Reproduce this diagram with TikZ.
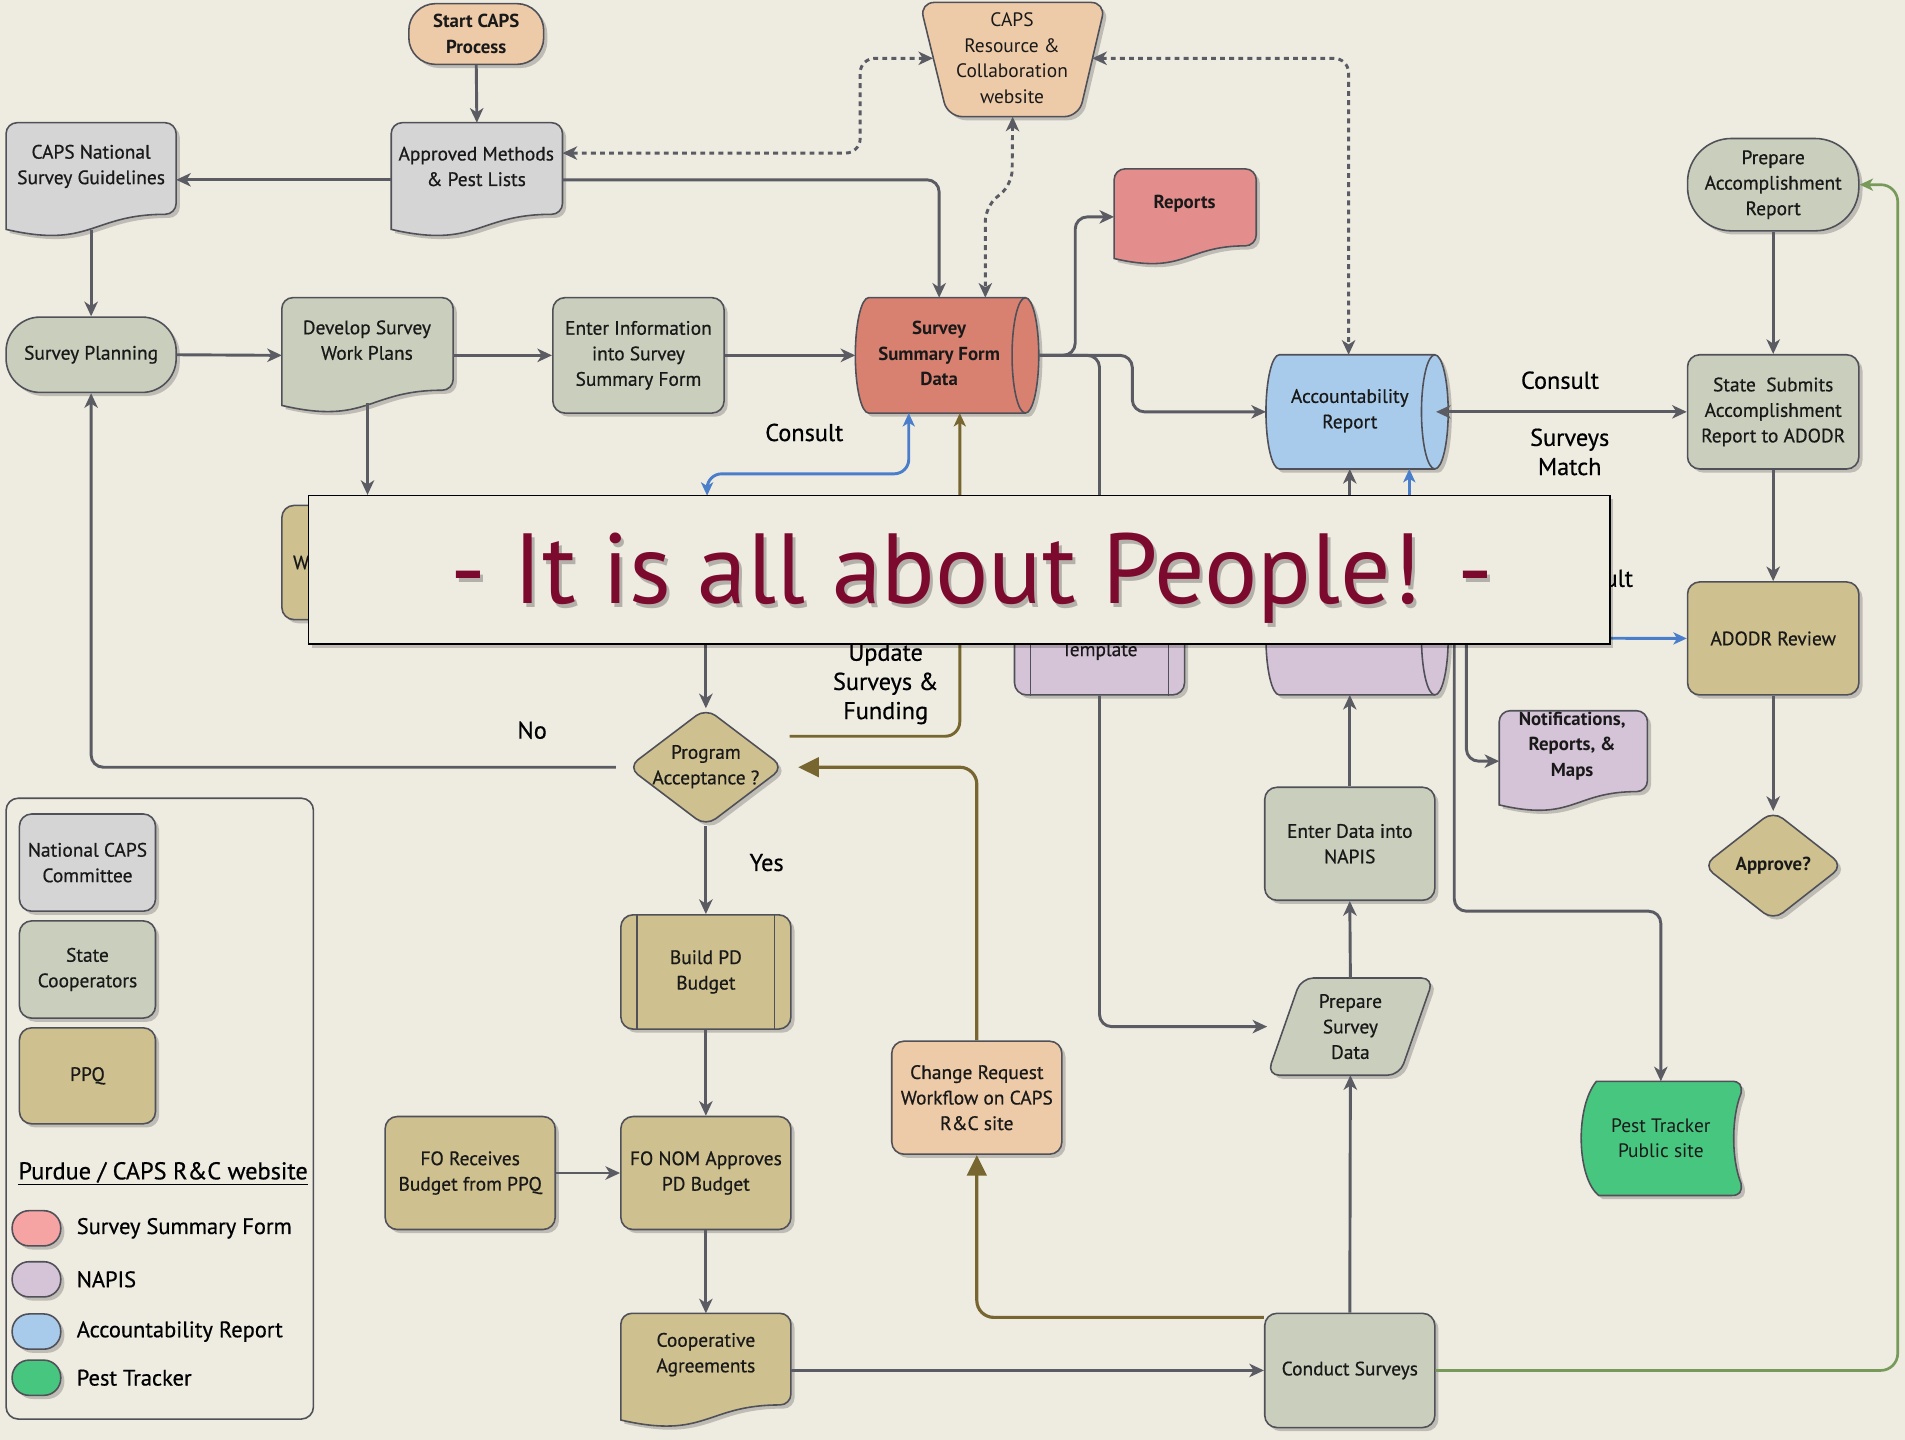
\documentclass[tikz,border=0pt]{standalone}
\usepackage{fontspec}
\setmainfont{PT Sans}
\newfontfamily\medfont{PT Sans}[FakeBold=0.6]
\usetikzlibrary{arrows.meta,calc,shadows}

\definecolor{bgc}{HTML}{EEECE1}
\definecolor{grayf}{HTML}{D5D5D5}
\definecolor{sagef}{HTML}{C9CFBC}
\definecolor{tanf}{HTML}{CEC18F}
\definecolor{peachf}{HTML}{EECBA8}
\definecolor{redf}{HTML}{D98171}
\definecolor{pinkf}{HTML}{E38E8C}
\definecolor{bluef}{HTML}{A9CBEB}
\definecolor{purplef}{HTML}{D5C3D7}
\definecolor{greenf}{HTML}{47C67F}
\definecolor{linec}{HTML}{5B5B63}
\definecolor{bordc}{HTML}{505058}
\definecolor{olivec}{HTML}{776630}
\definecolor{bluel}{HTML}{4A7DCA}
\definecolor{greenl}{HTML}{779A5B}
\definecolor{maroonc}{HTML}{7B0A2E}
\definecolor{legpink}{HTML}{F5A3A3}

\newcommand\nf{\medfont\fontsize{16}{21}\selectfont}
\newcommand\bnf{\normalfont\bfseries\fontsize{15.5}{21}\selectfont}
\newcommand\lf{\medfont\fontsize{20}{24}\selectfont}
\newcommand\legf{\medfont\fontsize{18.5}{24}\selectfont}
\newcommand\bannerfont{\fontsize{82}{90}\selectfont}

\tikzset{
 shad/.style={drop shadow={shadow xshift=3pt,shadow yshift=-3pt,opacity=0.2,fill=black}},
 sline/.style={draw=bordc,line width=1.3pt},
 sz/.style 2 args={minimum width=#1pt,minimum height=#2pt},
 nb/.style={sline,shad,rounded corners=10pt,align=center,font=\nf,inner sep=2pt,text=black!90},
 bare/.style={inner sep=0pt,outer sep=0pt},
 txt/.style={align=center,font=\nf,inner sep=0pt,text=black!90},
 lbl/.style={align=center,font=\lf,inner sep=0pt,text=black},
 legl/.style={align=center,font=\legf,inner sep=0pt,text=black},
 garr/.style={draw=linec,line width=2.4pt,-{Stealth[length=12pt,width=11pt,inset=3.5pt]},rounded corners=10pt},
 glin/.style={draw=linec,line width=2.4pt,rounded corners=10pt},
 garr2/.style={draw=linec,line width=2.4pt,{Stealth[length=12pt,width=11pt,inset=3.5pt]}-{Stealth[length=12pt,width=11pt,inset=3.5pt]}},
 darr/.style={draw=linec,line width=2.4pt,dash pattern=on 4pt off 3.5pt,{Stealth[length=12pt,width=11pt,inset=3.5pt]}-{Stealth[length=12pt,width=11pt,inset=3.5pt]},rounded corners=12pt},
 barr/.style={draw=bluel,line width=2.4pt,-{Stealth[length=11pt,width=10pt,inset=3pt]}},
 barr2/.style={draw=bluel,line width=2.4pt,{Stealth[length=11pt,width=10pt,inset=3pt]}-{Stealth[length=11pt,width=10pt,inset=3pt]},rounded corners=12pt},
 oarr/.style={draw=olivec,line width=2.4pt,-{Stealth[length=11pt,width=10pt,inset=3pt]},rounded corners=12pt},
 obig/.style={draw=olivec,line width=2.6pt,-{Triangle[length=17pt,width=16pt]},rounded corners=14pt},
 grarr/.style={draw=greenl,line width=2.2pt,-{Stealth[length=11pt,width=10pt,inset=3pt]},rounded corners=14pt},
}

% document shape with wavy bottom
\newcommand\docwave[2]{%
 \draw[sline,shad,fill=#2] let \p1=(#1.north west), \p2=(#1.south east), \n1={\x2-\x1}, \n2={\y1-\y2} in
 (\x1,\y2+0.066*\n2) [rounded corners=9pt] -- (\x1,\y1) -- (\x2,\y1) -- (\x2,\y2+0.198*\n2) [sharp corners]
 .. controls (\x1+0.5*\n1,\y2+0.198*\n2) and (\x1+0.5*\n1,\y2-0.107*\n2) .. (\x1,\y2+0.066*\n2) -- cycle;}

% horizontal cylinder
\newcommand\cylshape[2]{%
 \draw[sline,shad,fill=#2] let \p1=(#1.north west), \p2=(#1.south east), \n1={0.5*(\y1-\y2)} in
 (\x1+11pt,\y1) -- (\x2-11pt,\y1) arc[start angle=90,end angle=-90,x radius=11pt,y radius=\n1]
 -- (\x1+11pt,\y2) arc[start angle=270,end angle=90,x radius=11pt,y radius=\n1] -- cycle;
 \draw[sline] let \p1=(#1.north east), \p2=(#1.south east), \n1={0.5*(\y1-\y2)} in
 (\x1-11pt,\y1) arc[start angle=90,end angle=270,x radius=11pt,y radius=\n1];}

% predefined-process bars
\newcommand\bars[1]{%
 \draw[sline] ([xshift=14pt]#1.north west) -- ([xshift=14pt]#1.south west);
 \draw[sline] ([xshift=-14pt]#1.north east) -- ([xshift=-14pt]#1.south east);}

% diamond
\newcommand\diam[2]{%
 \draw[sline,shad,fill=#2,rounded corners=10pt] (#1.north) -- (#1.east) -- (#1.south) -- (#1.west) -- cycle;}

\begin{document}
\begin{tikzpicture}[x=1pt,y=-1pt]
\fill[bgc] (0,0) rectangle (1568,1185);
\useasboundingbox (0,0) rectangle (1568,1185);

% ---------------- nodes ----------------
\node[nb,fill=peachf,sz={111}{50},rounded corners=22pt,font=\bnf] (start) at (392,28) {Start CAPS\\Process};

\node[bare,sz={153}{94}] (web) at (833.5,49) {};
\draw[sline,shad,fill=peachf,rounded corners=12pt] (web.north west) -- (web.north east) -- ($(web.south east)+(-22,0)$) -- ($(web.south west)+(23,0)$) -- cycle;
\node[txt,font=\fontsize{16}{21}\selectfont] (webt) at (833,48) {CAPS\\Resource \&\\Collaboration\\website};
\coordinate (webl) at (768,48);
\coordinate (webr) at (899,48);

\node[bare,sz={140}{94}] (cng) at (75,148) {};
\docwave{cng}{grayf}
\node[txt] (cngt) at (75,137) {CAPS National\\Survey Guidelines};

\node[bare,sz={141}{94}] (appr) at (392.5,148) {};
\docwave{appr}{grayf}
\node[txt] (apprt) at (392,137) {Approved Methods\\\& Pest Lists};

\node[bare,sz={117}{79}] (rep) at (975.5,178.5) {};
\docwave{rep}{pinkf}
\node[txt,font=\bnf] (rept) at (975,168) {Reports};

\node[nb,fill=sagef,sz={141}{76},rounded corners=36pt] (par) at (1459.5,152) {Prepare\\Accomplishment\\Report};

\node[nb,fill=sagef,sz={140}{62},rounded corners=28pt] (sp) at (75,292) {Survey Planning};

\node[bare,sz={141}{95}] (dswp) at (302.5,292.5) {};
\docwave{dswp}{sagef}
\node[txt] (dswpt) at (302,280) {Develop Survey\\Work Plans};

\node[nb,fill=sagef,sz={141}{95}] (eis) at (525.5,292.5) {Enter Information\\into Survey\\Summary Form};

\node[bare,sz={151}{95}] (ssfd) at (779.5,292.5) {};
\cylshape{ssfd}{redf}
\node[txt,font=\bnf] (ssfdt) at (773,291) {Survey\\Summary Form\\Data};

\node[bare,sz={150}{94}] (acc) at (1117,339) {};
\cylshape{acc}{bluef}
\node[txt] (acct) at (1111,338) {Accountability\\Report};

\node[nb,fill=sagef,sz={141}{94}] (sub) at (1459.5,339) {State\ \ Submits\\Accomplishment\\Report to ADODR};

\node[nb,fill=tanf,sz={141}{94}] (hid) at (302.5,463) {};
\node[txt,anchor=west] (hidw) at (241,463) {W};

\node[nb,fill=purplef,sz={140}{94}] (tmpl) at (905,525) {};
\bars{tmpl}
\node[txt] (tmplt) at (905,536) {Template};

\node[bare,sz={150}{94}] (napis) at (1117,525) {};
\cylshape{napis}{purplef}

\node[nb,fill=tanf,sz={141}{93}] (adodr) at (1459.5,525.5) {ADODR Review};

\node[bare,sz={122}{83}] (notif) at (1295,626.5) {};
\docwave{notif}{purplef}
\node[txt,font=\bnf] (notift) at (1294,614) {Notifications,\\Reports, \&\\Maps};

\node[bare,sz={115}{90}] (approve) at (1459.5,712.5) {};
\diam{approve}{tanf}
\node[txt,font=\bnf] (approvet) at (1459.5,712.5) {Approve?};

\node[bare,sz={128}{97}] (prog) at (581,631.5) {};
\diam{prog}{tanf}
\node[txt] (progt) at (581,631) {Program\\Acceptance ?};

\node[nb,fill=tanf,sz={140}{94}] (build) at (581,800) {Build PD\\Budget};
\bars{build}

\node[nb,fill=tanf,sz={140}{93}] (fonom) at (581,965.5) {FO NOM Approves\\PD Budget};
\node[nb,fill=tanf,sz={140}{93}] (forec) at (387,965.5) {FO Receives\\Budget from PPQ};

\node[bare,sz={140}{94}] (coop) at (581,1128) {};
\docwave{coop}{tanf}
\node[txt] (coopt) at (581,1115) {Cooperative\\Agreements};

\node[nb,fill=peachf,sz={140}{93}] (cr) at (804,903.5) {Change Request\\Workflow on CAPS\\R\&C site};

\node[nb,fill=sagef,sz={140}{94}] (cs) at (1111,1128) {Conduct Surveys};

\node[bare,sz={137}{80}] (psd) at (1111.5,845) {};
\draw[sline,shad,fill=sagef,rounded corners=10pt] ($(psd.north west)+(28,0)$) -- (psd.north east) -- ($(psd.south east)+(-28,0)$) -- (psd.south west) -- cycle;
\node[txt] (psdt) at (1111.5,845) {Prepare\\Survey\\Data};

\node[nb,fill=sagef,sz={140}{93}] (edn) at (1111,694.5) {Enter Data into\\NAPIS};

\node[bare,sz={134}{94}] (pt) at (1367,937) {};
\draw[sline,shad,fill=greenf] let \p1=(pt.north west), \p2=(pt.south east) in
 (\x1+14pt,\y1) -- (\x2-9pt,\y1) .. controls (\x2-2pt,\y1) and (\x2,\y1-3pt) .. (\x2-1pt,\y1-10pt)
 .. controls (\x2-9pt,\y1-30pt) and (\x2-9pt,\y2+30pt) .. (\x2-1pt,\y2+10pt)
 .. controls (\x2,\y2+3pt) and (\x2-2pt,\y2) .. (\x2-9pt,\y2) -- (\x1+16pt,\y2)
 .. controls (\x1-2pt,\y2+14pt) and (\x1-4pt,\y1-22pt) .. (\x1+14pt,\y1) -- cycle;
\node[txt,font=\fontsize{16}{21}\selectfont] (ptt) at (1367,937) {Pest Tracker\\Public site};

% ---------------- legend ----------------
\node[draw=bordc,line width=1.3pt,rounded corners=10pt,sz={253}{511},inner sep=0pt] (legend) at (131.5,912.5) {};
\node[nb,fill=grayf,sz={112}{80}] (lg1) at (72,710) {National CAPS\\Committee};
\node[nb,fill=sagef,sz={112}{80}] (lg2) at (72,798) {State\\Cooperators};
\node[nb,fill=tanf,sz={112}{79}] (lg3) at (72,885.5) {PPQ};
\node[lbl,anchor=west] (lgtitle) at (15,966) {\underline{Purdue / CAPS R\&C website}};
\node[nb,fill=legpink,sz={40}{29},rounded corners=14pt] (ov1) at (30,1011) {};
\node[nb,fill=purplef,sz={40}{29},rounded corners=14pt] (ov2) at (30,1053) {};
\node[nb,fill=bluef,sz={40}{29},rounded corners=14pt] (ov3) at (30,1096) {};
\node[nb,fill=greenf,sz={40}{29},rounded corners=14pt] (ov4) at (30,1134) {};
\node[legl,anchor=west] (lt1) at (63,1011) {Survey Summary Form};
\node[legl,anchor=west] (lt2) at (63,1053) {NAPIS};
\node[legl,anchor=west] (lt3) at (63,1096) {Accountability Report};
\node[legl,anchor=west] (lt4) at (63,1134) {Pest Tracker};

% ---------------- connectors ----------------
\coordinate (hidtop) at (582,408);
\coordinate (hidc) at (581,470);
\coordinate (cb) at (748,390);
\coordinate (upd) at (650,606);

\draw[garr] (start.south) -- (appr.north);
\draw[garr] (appr.west) -- (cng.east);
\draw[garr] (appr.east) -| ([xshift=-6.5pt]ssfd.north);
\draw[garr] ([yshift=6pt]cng.south) -- (sp.north);
\draw[garr] (sp.east) -- (dswp.west);
\draw[garr] (dswp.east) -- (eis.west);
\draw[garr] (eis.east) -- (ssfd.west);
\draw[garr,shorten >=8pt] ([yshift=8pt]dswp.south) -- (hid.north);
\draw[garr] (ssfd.east) -- (885,292.5) |- (rep.west);
\draw[garr] (ssfd.east) -- (932,292.5) |- (acc.west);
\draw[glin] (ssfd.east) -| (tmpl.north);
\draw[garr] (tmpl.south) |- (psd.west);
\draw[garr] (cs.north) -- (psd.south);
\draw[garr] (psd.north) -- (edn.south);
\draw[garr] (edn.north) -- (edn.north |- napis.south);
\draw[garr] (edn.north |- napis.north) -- (edn.north |- acc.south);
\draw[barr] ([xshift=43pt]napis.north) -- ([xshift=43pt]acc.south);
\draw[garr2] ([xshift=-10pt]acc.east) -- (sub.west);
\draw[garr] (par.south) -- (sub.north);
\draw[garr] (sub.south) -- (adodr.north);
\draw[garr] (adodr.south) -- (approve.north);
\draw[barr] (napis.east) -- (adodr.west);
\draw[garr] ([yshift=12pt]napis.east) -- (1207,513) |- (notif.west);
\draw[garr] ([yshift=12pt]napis.east) -- (1197,513) -- (1197,750) -| (pt.north);

\draw[barr2] (hidtop) |- (cb) -- (cb |- ssfd.south);
\draw[oarr] (upd) -| ([xshift=10.5pt]ssfd.south);
\draw[obig] (cr.north) |- ([xshift=12pt]prog.east);
\draw[obig] ([yshift=-4pt]cs.north west) -| (cr.south);

\draw[garr] ([xshift=-10pt]prog.west) -| (sp.south);
\draw[garr] (prog.south) -- (build.north);
\draw[garr] (hidc) -- (prog.north);
\draw[garr] (build.south) -- (fonom.north);
\draw[garr] (fonom.south) -- (coop.north);
\draw[garr] (forec.east) -- (fonom.west);
\draw[garr] (coop.east) -- (cs.west);
\draw[grarr] (cs.east) -- (1562,1128) |- (par.east);

\draw[darr] (webl) -- (708,48) |- ([yshift=22pt]appr.east);
\draw[darr] (webr) -| ([xshift=-7pt]acc.north);
\draw[darr] (web.south) -- (833,152) -- (811,170) -- ([xshift=31.5pt]ssfd.north);

% ---------------- labels ----------------
\node[lbl] (l1) at (662,356) {Consult};
\node[lbl] (l2) at (1284,313) {Consult};
\node[lbl] (l3) at (1292,372) {Surveys\\Match};
\node[lbl] (l4) at (1312,476) {Consult};
\node[lbl] (l5) at (729,563) {Update\\Surveys \&\\Funding};
\node[lbl] (l6) at (438,601) {No};
\node[lbl] (l7) at (631,710) {Yes};

% ---------------- banner ----------------
\node[draw=black,line width=1.3pt,fill=bgc,shad,sz={1071}{122},inner sep=0pt] (banner) at (789.5,469) {};
\node[anchor=base,text=black,opacity=0.25,font=\bannerfont,inner sep=0pt] (bshadow) at (802.5,500) {- It is all about People! -};
\node[anchor=base,text=maroonc,font=\bannerfont,inner sep=0pt] (btext) at (800,497) {- It is all about People! -};
\end{tikzpicture}
\end{document}
